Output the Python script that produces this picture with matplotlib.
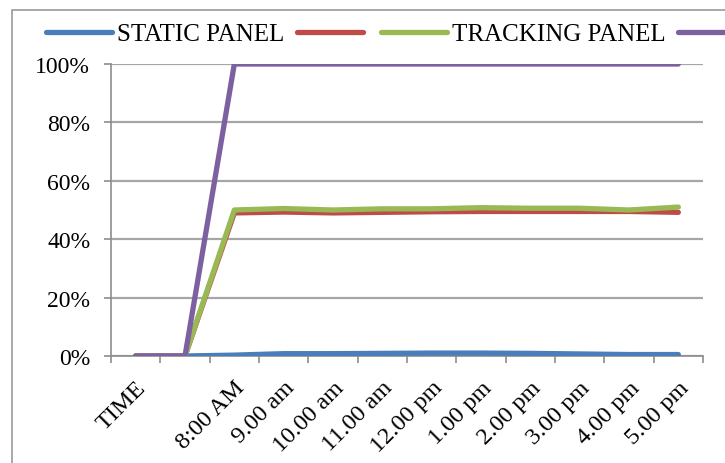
import matplotlib
matplotlib.use("Agg")
import matplotlib.pyplot as plt
from matplotlib.patches import Rectangle
from matplotlib.ticker import FuncFormatter, FixedLocator

categories = ["TIME", "", "8:00 AM", "9.00 am", "10.00 am", "11.00 am",
              "12.00 pm", "1.00 pm", "2.00 pm", "3.00 pm", "4.00 pm", "5.00 pm"]

static_panel = [0, 0, 0.3, 0.8, 0.8, 0.9, 1.0, 1.0, 0.9, 0.7, 0.5, 0.5]
red_series = [0, 0, 49.0, 49.3, 49.0, 49.2, 49.4, 49.5, 49.5, 49.5, 49.5, 49.2]
tracking_panel = [0, 0, 50.0, 50.5, 50.0, 50.4, 50.4, 50.8, 50.6, 50.6, 50.0, 51.0]
purple_series = [0, 0, 100, 100, 100, 100, 100, 100, 100, 100, 100, 100]

plt.rcParams["font.family"] = ["Liberation Serif", "DejaVu Serif"]

fig = plt.figure(figsize=(7.25, 4.64), dpi=100)
fig.patch.set_facecolor("white")
# chart frame, open to the right and bottom
fig.patches.append(Rectangle((12 / 725, -0.1), 1.2, 1 - 11 / 464 + 0.1,
                             transform=fig.transFigure, fill=False,
                             edgecolor="#9a9a9a", linewidth=1.2))

ax = fig.add_axes([111 / 725, 1 - 357 / 464, (703 - 111) / 725, (357 - 65) / 464])
x = list(range(len(categories)))
lw = 3.8
l1, = ax.plot(x, static_panel, color="#4a7ebb", lw=lw, solid_capstyle="round", zorder=3)
l2, = ax.plot(x, red_series, color="#be4b48", lw=lw, solid_capstyle="round", zorder=3)
l3, = ax.plot(x, tracking_panel, color="#98b954", lw=lw, solid_capstyle="round", zorder=4)
l4, = ax.plot(x, purple_series, color="#7d60a0", lw=lw, solid_capstyle="round", zorder=5)

ax.set_xlim(-0.5, len(categories) - 0.5)
ax.set_ylim(0, 100)
ax.set_yticks(range(0, 101, 20))
ax.yaxis.set_major_formatter(FuncFormatter(lambda v, p: f"{int(v)}%"))
ax.grid(axis="y", color="#a6a6a6", lw=1.6)
ax.set_axisbelow(True)

ax.set_xticks(x)
ax.set_xticklabels(categories, rotation=45, ha="right", rotation_mode="anchor")
ax.xaxis.set_minor_locator(FixedLocator([i - 0.5 for i in range(len(categories) + 1)]))
ax.tick_params(axis="x", which="major", length=0, pad=15, labelsize=17.5)
ax.tick_params(axis="x", which="minor", length=5, color="#8c8c8c", width=1.2)
ax.tick_params(axis="y", length=5, color="#8c8c8c", width=1.2, labelsize=17, pad=10)

for side in ("top", "right"):
    ax.spines[side].set_visible(False)
for side in ("left", "bottom"):
    ax.spines[side].set_color("#8c8c8c")
    ax.spines[side].set_linewidth(1.2)

fig.legend([l1, l2, l3, l4], ["STATIC PANEL", "", "TRACKING PANEL", ""],
           loc="center left", bbox_to_anchor=(46 / 725, 1 - 35 / 464), ncol=4,
           frameon=False, fontsize=18, handlelength=2.65, handletextpad=0.2,
           columnspacing=0.5, borderpad=0, borderaxespad=0)

fig.savefig("out.png", dpi=100)
